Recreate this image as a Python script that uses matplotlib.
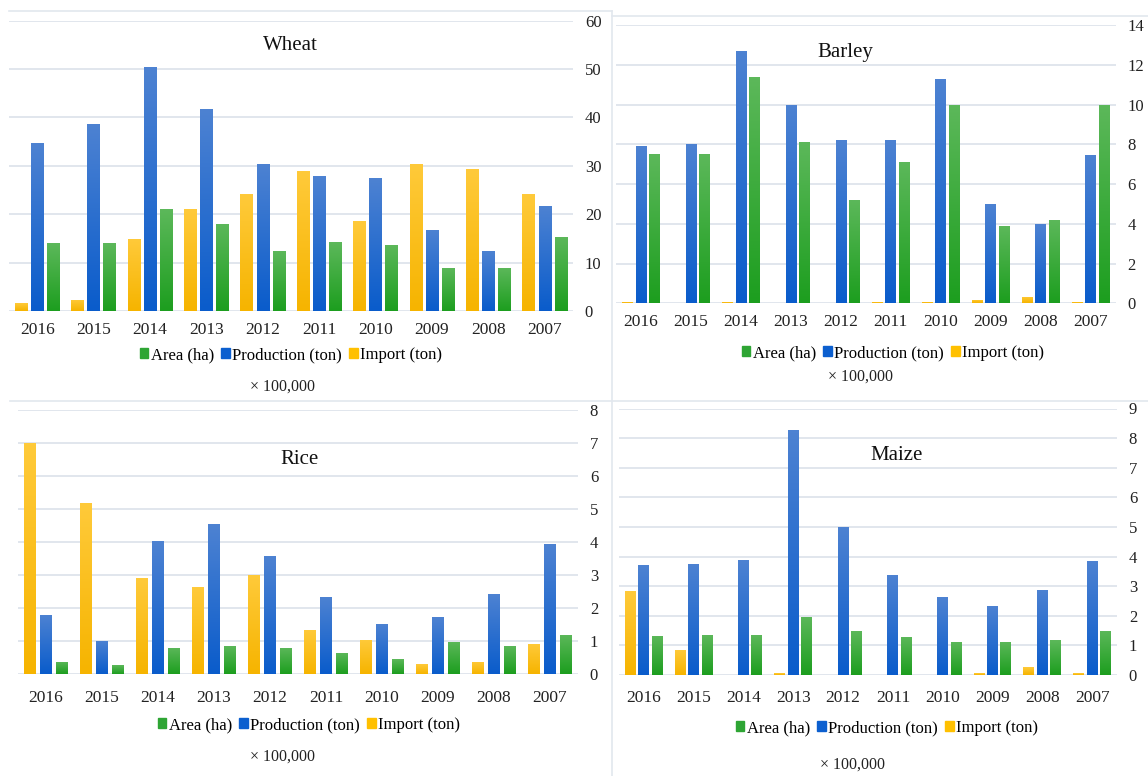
import numpy as np
import matplotlib
matplotlib.use("Agg")
import matplotlib.pyplot as plt
from matplotlib.colors import LinearSegmentedColormap
from matplotlib.patches import Patch
from matplotlib.lines import Line2D

plt.rcParams["font.family"] = ["Liberation Serif", "DejaVu Serif"]

# ---- data (values in units of 100,000) ----
years = ["2016", "2015", "2014", "2013", "2012", "2011", "2010", "2009", "2008", "2007"]

wheat_area = [14.0, 14.0, 21.0, 18.0, 12.4, 14.2, 13.7, 8.9, 8.9, 15.3]
wheat_prod = [34.7, 38.7, 50.4, 41.8, 30.4, 27.9, 27.4, 16.8, 12.4, 21.8]
wheat_import = [1.6, 2.3, 14.9, 21.0, 24.1, 28.9, 18.5, 30.4, 29.3, 24.1]

barley_area = [7.5, 7.5, 11.4, 8.1, 5.2, 7.1, 10.0, 3.9, 4.2, 10.0]
barley_prod = [7.9, 8.0, 12.7, 10.0, 8.2, 8.2, 11.3, 5.0, 4.0, 7.45]
barley_import = [0.08, 0.0, 0.08, 0.0, 0.0, 0.08, 0.08, 0.18, 0.32, 0.08]

rice_area = [0.37, 0.27, 0.79, 0.86, 0.79, 0.64, 0.45, 0.97, 0.86, 1.19]
rice_prod = [1.79, 1.01, 4.02, 4.54, 3.57, 2.34, 1.52, 1.72, 2.42, 3.94]
rice_import = [7.0, 5.2, 2.9, 2.63, 3.02, 1.34, 1.04, 0.3, 0.37, 0.93]

maize_area = [1.33, 1.34, 1.34, 1.96, 1.47, 1.3, 1.13, 1.13, 1.17, 1.5]
maize_prod = [3.71, 3.76, 3.87, 8.27, 5.0, 3.37, 2.62, 2.34, 2.88, 3.84]
maize_import = [2.82, 0.84, 0.0, 0.06, 0.0, 0.0, 0.0, 0.06, 0.26, 0.06]

series_labels = ["Area (ha)", "Production (ton)", "Import (ton)"]
scale_note = "\u00d7 100,000"

# ---- styling ----
W, H = 1148, 776
GREEN = ("#5cb85a", "#1d9e1f")
BLUE = ("#4d82d2", "#0a5ccb")
YELLOW = ("#ffca3a", "#f6b400")
GRID = "#dbe1ea"
BORDER = "#e2e7ee"
SOLID = {"green": "#2ea534", "blue": "#0c5fcf", "yellow": "#ffc000"}


def fx(px):
    return px / W


def fy(py):
    return 1 - py / H


def gradient_bars(ax, xs, values, width, colors):
    top, bottom = colors
    cmap = LinearSegmentedColormap.from_list("g", [bottom, top])
    grad = np.linspace(0, 1, 64).reshape(-1, 1)
    bars = ax.bar(xs, values, width, color="none", edgecolor="none", zorder=2)
    for b in bars:
        x0, y0 = b.get_xy()
        w, h = b.get_width(), b.get_height()
        if h <= 0:
            continue
        im = ax.imshow(grad, extent=[x0, x0 + w, y0, y0 + h], origin="lower",
                       cmap=cmap, aspect="auto", zorder=2, interpolation="bilinear")
        im.set_clip_path(b)


def panel(x0, x1, ytop, ybot, ymax, step, area, prod, imp,
          width, pitch, tick_pad, title, title_xy, legend_xy, note_xy):
    ax = fig.add_axes([fx(x0), fy(ybot), fx(x1 - x0), (ybot - ytop) / H])
    xs = np.arange(len(years))
    gradient_bars(ax, xs - pitch, imp, width, YELLOW)
    gradient_bars(ax, xs, prod, width, BLUE)
    gradient_bars(ax, xs + pitch, area, width, GREEN)
    ax.set_xlim(-0.5, len(years) - 0.5)
    ax.set_ylim(0, ymax)
    ax.set_yticks(np.arange(0, ymax + step / 2, step))
    ax.yaxis.tick_right()
    ax.set_xticks(xs)
    ax.set_xticklabels(years)
    ax.tick_params(axis="y", length=0, pad=8.5, labelsize=12, labelcolor="#222222")
    ax.tick_params(axis="x", length=0, pad=tick_pad, labelsize=12.5, labelcolor="#222222")
    ax.grid(axis="y", color=GRID, lw=1.2, zorder=0)
    ax.set_axisbelow(True)
    for s in ax.spines.values():
        s.set_visible(False)
    ax.patch.set_alpha(0)

    fig.text(fx(title_xy[0]), fy(title_xy[1]), title, ha="center", va="center",
             fontsize=15, color="#111111")
    handles = [Patch(color=SOLID["green"]), Patch(color=SOLID["blue"]),
               Patch(color=SOLID["yellow"])]
    fig.legend(handles, series_labels, loc="center",
               bbox_to_anchor=(fx(legend_xy[0]), fy(legend_xy[1])), ncol=3,
               frameon=False, fontsize=12, handlelength=0.5, handleheight=0.5,
               handletextpad=0.15, columnspacing=0.45, borderpad=0, borderaxespad=0)
    fig.text(fx(note_xy[0]), fy(note_xy[1]), scale_note, ha="center", va="center",
             fontsize=11.5, color="#222222")
    return ax


fig = plt.figure(figsize=(W / 100, H / 100), dpi=100)
fig.patch.set_facecolor("white")

# panel frames
for (xa, xb, ya, yb) in [(9, 612, 11, 11), (612, 1148, 16, 16), (612, 612, 11, 776),
                         (10, 612, 400.7, 400.7), (612, 1148, 400.7, 400.7)]:
    fig.add_artist(Line2D([fx(xa), fx(xb)], [fy(ya), fy(yb)], color=BORDER, lw=1.2))

panel(9, 573, 20.7, 311, 60, 10, wheat_area, wheat_prod, wheat_import,
      0.223, 0.284, 8, "Wheat", (290, 46), (291, 355), (283, 387))
panel(616, 1115.5, 25, 303.3, 14, 2, barley_area, barley_prod, barley_import,
      0.21, 0.27, 8, "Barley", (845, 52), (893, 353), (861, 377))
panel(18, 578, 410, 674.3, 8, 1, rice_area, rice_prod, rice_import,
      0.214, 0.277, 11, "Rice", (299, 460), (309, 725), (282, 757))
panel(619, 1117, 408.5, 675, 9, 1, maize_area, maize_prod, maize_import,
      0.22, 0.27, 11, "Maize", (897, 455), (887, 728), (852, 765))

fig.savefig("out.png", dpi=100, facecolor="white")
